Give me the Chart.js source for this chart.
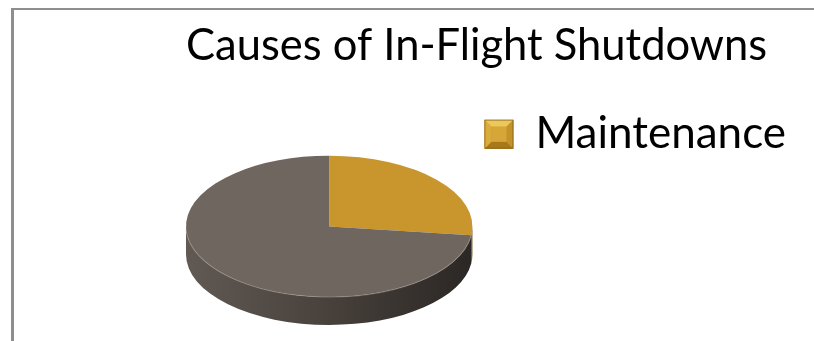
<!DOCTYPE html>
<html>
<head>
<meta charset="utf-8">
<script src="https://cdn.jsdelivr.net/npm/chart.js@4.4.1/dist/chart.umd.min.js"></script>
<style>
  html, body { margin: 0; padding: 0; background: #fff; }
  #wrap { position: relative; width: 814px; height: 341px; overflow: hidden; }
  #frame { position: absolute; left: 11px; top: 8px; width: 900px; height: 400px;
           border-top: 2px solid #8e8e8e; border-left: 3px solid #8e8e8e; }
  canvas { position: absolute; left: 0; top: 0; }
</style>
</head>
<body>
<div id="wrap">
  <div id="frame"></div>
  <canvas id="pie" width="814" height="341"></canvas>
</div>
<script>
const chartTitle = 'Causes of In-Flight Shutdowns';
const causes = ['Maintenance', 'Other causes'];
const shares = [27, 73];
const legendShown = ['Maintenance'];

const topColors = ['#c8962c', '#6f6660'];
const TILT = 0.493;   // ry / rx of the top face
const DEPTH = 28;     // thickness of the pie

// squash the library's pie into a tilted disc and give it a side wall
let ell = null;
const pie3d = {
    id: 'pie3d',
    beforeDatasetsDraw(chart) {
        const arcs = chart.getDatasetMeta(0).data;
        if (!arcs.length) return;
        const a0 = arcs[0];
        const area = chart.chartArea;
        const rx = (area.right - area.left) / 2;
        const ry = rx * TILT;
        const cx = (area.left + area.right) / 2;
        const cy = area.bottom - DEPTH - ry;
        ell = { cx, cy, rx, ry, R: a0.outerRadius, ox: a0.x, oy: a0.y };
        const ctx = chart.ctx;

        // side wall: only the front half (0..PI) is visible
        const grad = ctx.createLinearGradient(cx - rx, 0, cx + rx, 0);
        grad.addColorStop(0, '#615953');
        grad.addColorStop(0.45, '#4a433e');
        grad.addColorStop(1, '#2b2724');
        const gradGold = ctx.createLinearGradient(cx - rx, 0, cx + rx, 0);
        gradGold.addColorStop(0, '#8a6418');
        gradGold.addColorStop(1, '#6b4d12');
        const TWO = Math.PI * 2;
        arcs.forEach((arc, i) => {
            let s = arc.startAngle, e = arc.endAngle;
            while (s < 0) { s += TWO; e += TWO; }
            [[s, e], [s - TWO, e - TWO], [s + TWO, e + TWO]].forEach(([a, b]) => {
                const lo = Math.max(a, 0), hi = Math.min(b, Math.PI);
                if (hi <= lo) return;
                ctx.beginPath();
                ctx.ellipse(cx, cy, rx, ry, 0, lo, hi);
                ctx.ellipse(cx, cy + DEPTH, rx, ry, 0, hi, lo, true);
                ctx.closePath();
                ctx.fillStyle = i === 0 ? gradGold : grad;
                ctx.fill();
            });
        });

        ctx.save();
        ctx.translate(cx, cy);
        ctx.scale(rx / ell.R, ry / ell.R);
        ctx.translate(-ell.ox, -ell.oy);
    },
    afterDatasetsDraw(chart) {
        if (!ell) return;
        const ctx = chart.ctx;
        ctx.restore();
        // soft rim where top face meets the wall
        ctx.save();
        ctx.beginPath();
        ctx.ellipse(ell.cx, ell.cy, ell.rx, ell.ry, 0, 0.05, Math.PI - 0.05);
        ctx.strokeStyle = 'rgba(160,150,142,0.55)';
        ctx.lineWidth = 1.2;
        ctx.stroke();
        ctx.restore();
    },
    afterDraw(chart) {
        // bevelled legend swatch
        const hb = chart.legend && chart.legend.legendHitBoxes[0];
        if (!hb) return;
        const lab = chart.options.plugins.legend.labels;
        const w = lab.boxWidth, h = lab.boxHeight;
        const x = hb.left, y = hb.top + (hb.height - h) / 2;
        const ins = 7;
        const ctx = chart.ctx;
        const face = (pts, col) => {
            ctx.beginPath();
            ctx.moveTo(pts[0][0], pts[0][1]);
            pts.slice(1).forEach(p => ctx.lineTo(p[0], p[1]));
            ctx.closePath();
            ctx.fillStyle = col;
            ctx.fill();
        };
        ctx.save();
        face([[x, y], [x + w, y], [x + w - ins, y + ins], [x + ins, y + ins]], '#ecc75a');
        face([[x, y + h], [x + w, y + h], [x + w - ins, y + h - ins], [x + ins, y + h - ins]], '#a8791b');
        face([[x, y], [x + ins, y + ins], [x + ins, y + h - ins], [x, y + h]], '#d9ac3c');
        face([[x + w, y], [x + w - ins, y + ins], [x + w - ins, y + h - ins], [x + w, y + h]], '#c3932a');
        face([[x + ins, y + ins], [x + w - ins, y + ins], [x + w - ins, y + h - ins], [x + ins, y + h - ins]], '#d6a638');
        ctx.strokeStyle = 'rgba(120,85,20,0.6)';
        ctx.lineWidth = 1;
        ctx.strokeRect(x + 0.5, y + 0.5, w - 1, h - 1);
        ctx.restore();
    }
};

new Chart(document.getElementById('pie'), {
    type: 'pie',
    data: {
        labels: causes,
        datasets: [{ data: shares, backgroundColor: topColors, borderWidth: 0 }]
    },
    plugins: [pie3d],
    options: {
        responsive: false,
        animation: false,
        events: [],
        rotation: 0,
        layout: { padding: { left: 186, right: 18, top: 0, bottom: 16 } },
        plugins: {
            tooltip: { enabled: false },
            title: {
                display: true,
                text: chartTitle,
                align: 'start',
                color: '#000',
                font: { family: 'Lato', size: 43.5, weight: 'normal' },
                padding: { top: 20, bottom: 28 }
            },
            legend: {
                position: 'right',
                align: 'start',
                fullSize: false,
                maxWidth: 360,
                labels: {
                    color: '#000',
                    font: { family: 'Lato', size: 44 },
                    boxWidth: 29,
                    boxHeight: 29,
                    padding: 12,
                    filter: item => legendShown.includes(item.text)
                }
            }
        }
    }
});
</script>
</body>
</html>
